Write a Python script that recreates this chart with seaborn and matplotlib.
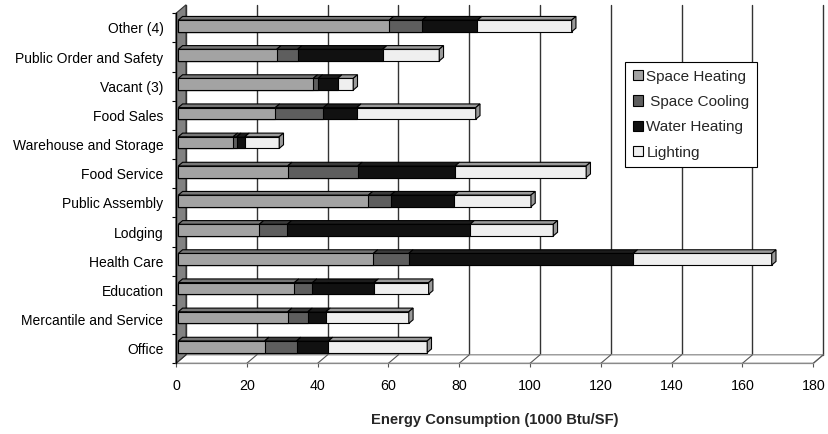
import numpy as np
import pandas as pd
import matplotlib
matplotlib.use("Agg")
import matplotlib.pyplot as plt
from matplotlib.patches import Polygon, Patch
import seaborn as sns

# ---------------- data ----------------
categories = ["Other (4)", "Public Order and Safety", "Vacant (3)", "Food Sales",
              "Warehouse and Storage", "Food Service", "Public Assembly", "Lodging",
              "Health Care", "Education", "Mercantile and Service", "Office"]
space_heating = [59.6, 27.8, 38.1, 27.4, 15.5, 30.9, 53.7, 22.9, 55.1, 32.8, 30.9, 24.4]
space_cooling = [9.3, 5.9, 1.4, 13.6, 1.0, 19.8, 6.3, 7.9, 10.0, 5.1, 5.7, 9.0]
water_heating = [15.6, 24.0, 5.5, 9.4, 2.3, 27.5, 17.9, 51.6, 63.4, 17.4, 5.1, 9.0]
lighting = [26.6, 16.0, 4.4, 33.6, 9.7, 37.0, 21.7, 23.5, 39.1, 15.4, 23.4, 27.9]
series_names = ["Space Heating", " Space Cooling", "Water Heating", "Lighting"]
x_ticks = [0, 20, 40, 60, 80, 100, 120, 140, 160, 180]
x_label = "Energy Consumption (1000 Btu/SF)"

# ---------------- style ----------------
front_colors = ["#a3a3a3", "#5e5e5e", "#111111", "#efefef"]
top_colors = ["#767676", "#3c3c3c", "#1c1c1c", "#9a9a9a"]

sns.set_theme(style="white")
plt.rcParams["font.family"] = ["Liberation Sans", "DejaVu Sans"]

W, H = 829, 434
fig = plt.figure(figsize=(W / 100, H / 100), dpi=100)
ax = fig.add_axes([176 / W, 1 - 363.3 / H, 637.3 / W, 350 / H])

df = pd.DataFrame({"category": categories,
                   "Space Heating": space_heating,
                   "Space Cooling": space_cooling,
                   "Water Heating": water_heating,
                   "Lighting": lighting})
vals = df[["Space Heating", "Space Cooling", "Water Heating", "Lighting"]].to_numpy().T
cum = np.cumsum(vals, axis=0)
starts = np.vstack([np.zeros(len(categories)), cum[:-1]])

for k in reversed(range(4)):
    sns.barplot(x=cum[k], y=df["category"], orient="h", color=front_colors[k],
                width=0.4, edgecolor="black", linewidth=0.8, saturation=1,
                ax=ax, zorder=3)

ax.set_xlim(0, 180)
ax.set_ylim(11.5, -0.5)

# pseudo-3D depth offsets (data units per unit depth)
DX = 10 / (637.3 / 180)
DY = 8.5 / (350 / 12)
d0, d1 = 0.23, 0.66

for p in ax.patches:
    p.set_x(p.get_x() + DX * d0)
    p.set_y(p.get_y() - DY * d0)

half = 0.2
for i in range(len(categories)):
    yt = i - half
    for k in range(4):
        x0, x1 = starts[k, i], cum[k, i]
        top = Polygon([(x0 + DX * d0, yt - DY * d0), (x1 + DX * d0, yt - DY * d0),
                       (x1 + DX * d1, yt - DY * d1), (x0 + DX * d1, yt - DY * d1)],
                      closed=True, facecolor=top_colors[k], edgecolor="black",
                      linewidth=0.8, zorder=3.5, clip_on=False)
        ax.add_patch(top)
    xe = cum[3, i]
    end = Polygon([(xe + DX * d0, yt - DY * d0), (xe + DX * d1, yt - DY * d1),
                   (xe + DX * d1, yt + 2 * half - DY * d1), (xe + DX * d0, yt + 2 * half - DY * d0)],
                  closed=True, facecolor="#9a9a9a", edgecolor="black", linewidth=0.8,
                  zorder=3.5, clip_on=False)
    ax.add_patch(end)

# back wall gridlines
for v in x_ticks:
    ax.plot([v + DX, v + DX], [11.5 - DY, -0.5 - DY], color="#333333", lw=1.0,
            zorder=1, clip_on=False)
# floor
floor = Polygon([(0, 11.5), (180, 11.5), (180 + DX, 11.5 - DY), (DX, 11.5 - DY)],
                closed=True, facecolor="white", edgecolor="#8a8a8a", linewidth=0.9,
                zorder=1.5, clip_on=False)
ax.add_patch(floor)
for v in x_ticks:
    ax.plot([v, v + DX], [11.5, 11.5 - DY], color="#555555", lw=0.8, zorder=1.6, clip_on=False)
# left wall
wall = Polygon([(0, 11.5), (DX, 11.5 - DY), (DX, -0.5 - DY), (0, -0.5)],
               closed=True, facecolor="#828282", edgecolor="#333333", linewidth=0.8,
               zorder=1.7, clip_on=False)
ax.add_patch(wall)

# axes cosmetics
for s in ["top", "right"]:
    ax.spines[s].set_visible(False)
ax.spines["left"].set_color("black")
ax.spines["left"].set_linewidth(1.0)
ax.spines["left"].set_zorder(5)
ax.spines["bottom"].set_color("#8a8a8a")
ax.spines["bottom"].set_linewidth(0.9)
ax.set_facecolor("none")

ax.set_xticks(x_ticks)
ax.set_xticklabels([str(t) for t in x_ticks])
ax.set_yticks(np.arange(-0.5, len(categories), 1.0), minor=True)
ax.tick_params(axis="x", which="major", direction="out", length=3, width=0.8,
               color="#555555", pad=8, labelsize=10.3, labelcolor="black", bottom=True)
ax.tick_params(axis="y", which="major", length=0, pad=9, labelsize=10, labelcolor="black")
ax.tick_params(axis="y", which="minor", direction="out", length=3, width=0.8,
               color="black", left=True)
ax.set_ylabel("")
ax.set_xlabel(x_label, fontsize=10.6, fontweight="bold", labelpad=15)
ax.grid(False)

handles = [Patch(facecolor=c, edgecolor="black", linewidth=0.8, label=n)
           for c, n in zip(front_colors, series_names)]
leg = fig.legend(handles=handles, loc="upper left", bbox_to_anchor=(625 / W, 1 - 62 / H),
                 frameon=True, fancybox=False, edgecolor="black", framealpha=1,
                 fontsize=11, handlelength=0.65, handleheight=0.65, handletextpad=0.25,
                 labelspacing=0.74, borderpad=0.5, borderaxespad=0)
leg.get_frame().set_linewidth(0.8)

fig.savefig("out.png", dpi=100, facecolor="white")
